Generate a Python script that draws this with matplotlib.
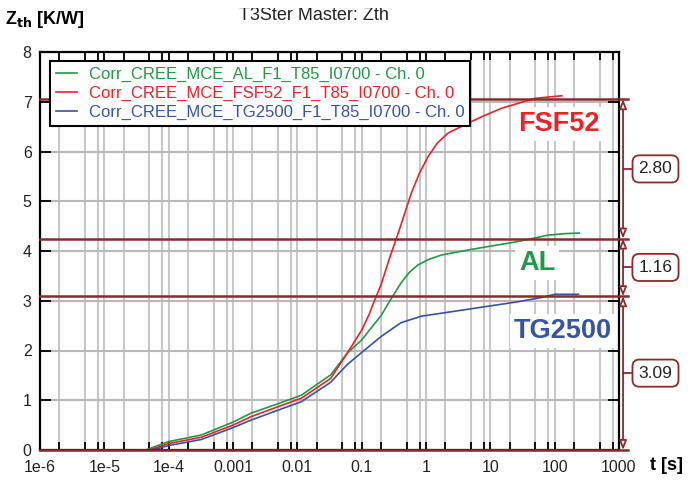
import numpy as np
import matplotlib
matplotlib.use('Agg')
from matplotlib import pyplot as plt
from matplotlib.patches import Rectangle
import matplotlib.transforms as mtransforms

plt.rcParams['font.family'] = ['Liberation Sans', 'DejaVu Sans']

# Zth curves (time in s, Zth in K/W)
t_al = [4.4e-5, 1e-4, 3.2e-4, 1e-3, 1.9e-3, 5e-3, 0.0115, 0.033, 0.060, 0.1, 0.14, 0.2, 0.30,
        0.41, 0.55, 0.75, 1.1, 1.74, 4.5, 9.3, 27, 80, 150, 240]
z_al = [0, 0.17, 0.30, 0.56, 0.74, 0.93, 1.10, 1.51, 1.95, 2.21, 2.45, 2.70, 3.08,
        3.36, 3.57, 3.72, 3.83, 3.92, 4.02, 4.09, 4.19, 4.32, 4.35, 4.36]

t_fsf = [5e-5, 1e-4, 3.2e-4, 1e-3, 1.9e-3, 5e-3, 0.0115, 0.033, 0.060, 0.1, 0.13, 0.16, 0.2,
         0.27, 0.37, 0.59, 0.8, 1.08, 1.5, 2.2, 4.5, 8, 15, 50, 129]
z_fsf = [0, 0.13, 0.255, 0.50, 0.67, 0.87, 1.04, 1.44, 1.95, 2.41, 2.72, 3.02, 3.32,
         3.85, 4.36, 5.16, 5.58, 5.90, 6.17, 6.37, 6.57, 6.72, 6.87, 7.07, 7.12]

t_tg = [5.6e-5, 1e-4, 3.2e-4, 1e-3, 1.9e-3, 5e-3, 0.0115, 0.033, 0.045, 0.060, 0.1, 0.2, 0.41,
        0.85, 2.5, 8.2, 27, 71, 100, 234]
z_tg = [0, 0.09, 0.21, 0.45, 0.60, 0.80, 0.97, 1.36, 1.55, 1.72, 1.96, 2.28, 2.56,
        2.69, 2.78, 2.88, 2.98, 3.08, 3.13, 3.13]

names = ['Corr_CREE_MCE_AL_F1_T85_I0700 - Ch. 0',
         'Corr_CREE_MCE_FSF52_F1_T85_I0700 - Ch. 0',
         'Corr_CREE_MCE_TG2500_F1_T85_I0700 - Ch. 0']
tags = ['AL', 'FSF52', 'TG2500']

# thermal resistance steps marked on the right side
r_steps = [3.09, 1.16, 2.80]

xtick_vals = [1e-6, 1e-5, 1e-4, 1e-3, 1e-2, 1e-1, 1, 10, 100, 1000]
xtick_text = ['1e-6', '1e-5', '1e-4', '0.001', '0.01', '0.1', '1', '10', '100', '1000']

c_al = '#1f9a45'
c_fsf = '#f02028'
c_tg = '#3553a8'
brown = '#8b2a2a'

fig = plt.figure(figsize=(6.96, 4.8), dpi=100)
ax = fig.add_axes([40/696, 1-450/480, 579/696, 398/480])

ax.set_xscale('log')
ax.set_xlim(1e-6, 1000)
ax.set_ylim(0, 8)

ax.set_xticks(xtick_vals)
ax.set_xticklabels(xtick_text)
minor = [m*10.0**k for k in range(-6, 3) for m in (2, 5, 8)]
ax.set_xticks(minor, minor=True)
ax.xaxis.set_minor_formatter(matplotlib.ticker.NullFormatter())
ax.set_yticks(range(0, 9))

ax.grid(which='both', axis='x', color='#c8c8c8', lw=1.5)
ax.grid(which='major', axis='y', color='#b8b8b8', lw=1.5)
ax.set_axisbelow(True)

ax.tick_params(which='both', direction='in', top=True, right=True, labelsize=11.5,
               colors='black', labelcolor='#222222')
ax.tick_params(axis='x', which='both', length=6, width=1.3, pad=7)
ax.tick_params(axis='y', length=8, width=1.3, pad=6)
for sp in ax.spines.values():
    sp.set_linewidth(1.6)

l1, = ax.plot(t_al, z_al, color=c_al, lw=1.2)
l2, = ax.plot(t_fsf, z_fsf, color=c_fsf, lw=1.2)
l3, = ax.plot(t_tg, z_tg, color=c_tg, lw=1.2)

leg = ax.legend([l1, l2, l3], names, loc='upper left', bbox_to_anchor=(0.017, 0.978),
                fontsize=12, frameon=True, fancybox=False, borderaxespad=0,
                handlelength=1.3, handletextpad=0.7, labelspacing=0.25,
                borderpad=0.35, edgecolor='black', framealpha=1)
leg.get_frame().set_linewidth(1.5)
for txt, c in zip(leg.get_texts(), [c_al, c_fsf, c_tg]):
    txt.set_color(c)

# curve tags, positioned in pixels from the top-left corner
tag_pos = [(537, 263), (559, 124), (563, 331)]
for tag, (px, py), c in zip(tags, tag_pos, [c_al, c_fsf, c_tg]):
    fig.text(px/696, 1-py/480, tag, color=c, fontsize=19.5, fontweight='bold', ha='center',
             va='center', bbox=dict(fc='white', ec='none', pad=2.5))

# level lines and dimension arrows on the right
levels = np.concatenate([[0], np.cumsum(r_steps)])
trans = mtransforms.blended_transform_factory(ax.transAxes, ax.transData)
x_dim = 1.007
for lv in levels:
    ax.plot([0, 1.016], [lv, lv], color=brown, lw=1.8, transform=trans, clip_on=False, zorder=4)
for lo, hi, r in zip(levels[:-1], levels[1:], r_steps):
    ax.annotate('', xy=(x_dim, hi), xytext=(x_dim, lo), xycoords=trans, textcoords=trans,
                arrowprops=dict(arrowstyle='<|-|>,head_length=0.55,head_width=0.22',
                                fc='white', ec=brown, lw=1.3, shrinkA=0, shrinkB=0),
                annotation_clip=False)
    mid = (lo + hi) / 2
    ax.plot([x_dim, 1.024], [mid, mid], color=brown, lw=1.3, transform=trans, clip_on=False)
    ax.text(1.063, mid, '%.2f' % r, transform=trans, ha='center', va='center', fontsize=12.5,
            color='#222222',
            bbox=dict(boxstyle='round,pad=0.35,rounding_size=0.4', fc='white', ec=brown, lw=1.3))

fig.text(5/696, 1-20/480, r'Z$_{\mathbf{th}}$ [K/W]', fontsize=13, fontweight='bold',
         ha='left', va='center')
fig.text(650/696, 1-466/480, 't [s]', fontsize=13, fontweight='bold', ha='left', va='center')
fig.text(314/696, 1-15/480, 'T3Ster Master: Zth', fontsize=13, color='#222222',
         ha='center', va='center')
fig.patches.append(Rectangle((230/696, 1-8/480), 180/696, 8/480, transform=fig.transFigure,
                             fc='white', ec='none', zorder=5))

fig.savefig('out.png', dpi=100)
